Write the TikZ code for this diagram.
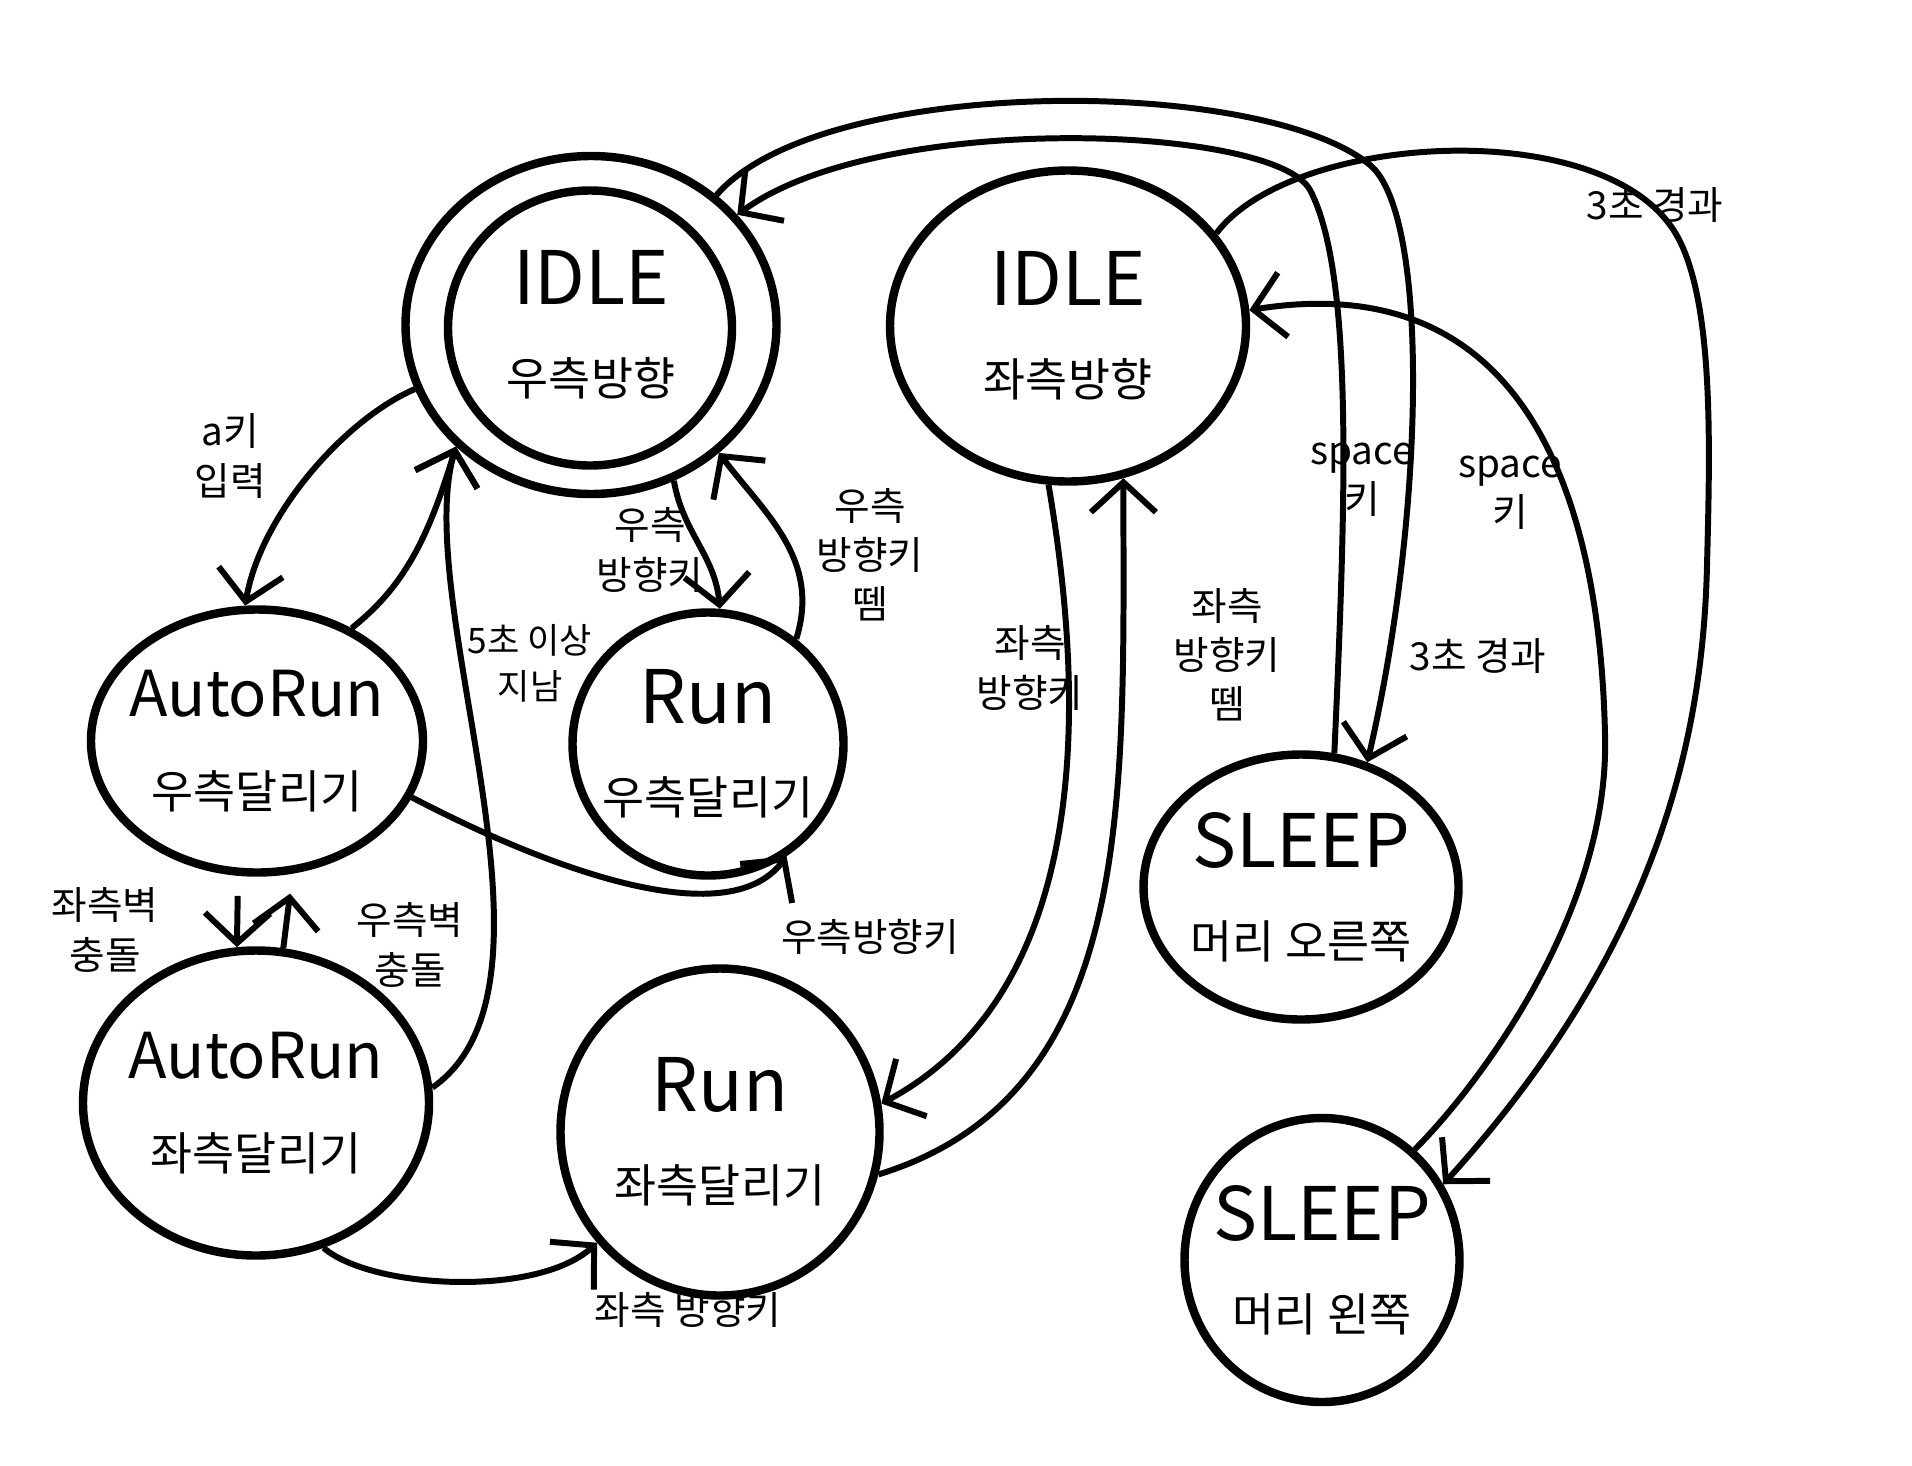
\documentclass[tikz,border=0pt]{standalone}
\usepackage{fontspec}
\setmainfont{Noto Sans CJK KR}
\usetikzlibrary{arrows.meta,shapes.geometric}

\newcommand{\stxt}[3][21]{{\fontsize{#1}{24}\selectfont #2}\\[10pt]#3}

\begin{document}
\begin{tikzpicture}[thick]

		\tikzstyle{state}=[ellipse, draw, line width=2.4pt, inner sep=0pt]
		\tikzstyle{stext}=[align=center, font=\fontsize{13}{16}\selectfont]
		\tikzstyle{trans}=[-{Straight Barb[length=3mm,width=6.5mm]}, line width=1.7pt]
		\tikzstyle{lbl}=[align=center, inner sep=1pt, font=\fontsize{11}{14}\selectfont]

		\fill[white] (0,0) rectangle (19.12,14.65);

		% States
		\node[state, minimum width=3.71cm, minimum height=3.38cm] (idleR) at (5.91,11.40) {};
		\node[state, minimum width=2.84cm, minimum height=2.75cm] (idleRin) at (5.90,11.37) {};
		\node[stext] (idleRt) at (idleR) {\stxt{IDLE}{우측방향}};
		\node[state, minimum width=3.56cm, minimum height=3.11cm] (idleL) at (10.68,11.39) {};
		\node[stext] (idleLt) at (idleL) {\stxt{IDLE}{좌측방향}};
		\node[state, minimum width=3.32cm, minimum height=2.63cm] (autoR) at (2.57,7.24) {};
		\node[stext] (autoRt) at (autoR) {\stxt[18]{AutoRun}{우측달리기}};
		\node[state, minimum width=3.46cm, minimum height=3.05cm] (autoL) at (2.56,3.62) {};
		\node[stext] (autoLt) at (autoL) {\stxt[18]{AutoRun}{좌측달리기}};
		\node[state, minimum width=2.71cm, minimum height=2.63cm] (runR) at (7.08,7.21) {};
		\node[stext] (runRt) at (runR) {\stxt{Run}{우측달리기}};
		\node[state, minimum width=3.19cm, minimum height=3.27cm] (runL) at (7.20,3.33) {};
		\node[stext] (runLt) at (runL) {\stxt{Run}{좌측달리기}};
		\node[state, minimum width=3.15cm, minimum height=2.65cm] (sleepR) at (13.01,5.78) {};
		\node[stext] (sleepRt) at (sleepR) {\stxt{SLEEP}{머리 오른쪽}};
		\node[state, minimum width=2.75cm, minimum height=2.84cm] (sleepL) at (13.22,2.05) {};
		\node[stext] (sleepLt) at (sleepL) {\stxt{SLEEP}{머리 왼쪽}};

		% Transitions
		\draw[trans] (idleR.200) .. controls +(-0.7,-0.3) and +(0.15,0.9) .. (autoR.95);
		\draw[trans] (autoR.50) .. controls +(0.5,0.4) and +(-0.29,-0.97) .. (idleR.222);
		\draw[trans] (autoL.5) .. controls (5.8,4.8) and (4.1,8.6) .. (idleR.222);
		\draw[trans] (idleR.298) to[out=-80,in=95] (runR.85);
		\draw[trans] (runR.50) .. controls +(0.25,0.8) and +(0.45,-0.6) .. (idleR.315);
		\draw[trans, shorten <=2mm] (autoR.262) -- (autoL.97);
		\draw[trans, shorten >=2mm] (autoL.80) -- (autoR.285);
		\draw[trans] (autoR.340) .. controls +(1.32,-0.69) and +(-0.6,-0.8) .. (runR.305);
		\draw[trans] (autoL.295) .. controls +(0.48,-0.41) and +(-0.6,-0.55) .. (runL.222);
		\draw[trans] (idleL.263) .. controls +(0.6,-3.5) and +(1.5,0.8) .. (runL.10);
		\draw[trans] (runL.345) .. controls +(2.6,0.8) and +(0,-3.2) .. (idleL.290);
		\draw[trans] (idleR.46) .. controls (8.2,13.9) and (12.6,13.9) .. (13.7,13.0)
			.. controls (14.3,12.5) and (14.25,9.5) .. (sleepR.62);
		\draw[trans] (sleepR.76) .. controls (13.45,9.5) and (13.55,11.9) .. (13.1,12.75)
			.. controls (12.75,13.4) and (8.8,13.55) .. (idleR.37);
		\draw[trans] (idleL.32) .. controls (12.9,13.3) and (15.9,13.5) .. (16.7,12.4)
			.. controls (17.15,11.8) and (17.1,10.2) .. (17.07,9.0)
			.. controls (17.03,7.3) and (16.6,5.2) .. (sleepL.32);
		\draw[trans] (sleepL.50) .. controls +(0.6,0.6) and (16.1,5.5) .. (16.05,7.3)
			.. controls (16.0,9.6) and (15.3,12.0) .. (idleL.5);

		% Labels
		\node[lbl] (k1) at (2.30,10.09) {a키\\입력};
		\node[lbl, font=\fontsize{10}{13}\selectfont] (k2) at (5.30,8.02) {5초 이상\\지남};
		\node[lbl] (k3) at (6.50,9.15) {우측\\방향키};
		\node[lbl] (k4) at (8.70,9.10) {우측\\방향키\\뗌};
		\node[lbl] (k5) at (1.05,5.35) {좌측벽\\충돌};
		\node[lbl] (k6) at (4.10,5.20) {우측벽\\충돌};
		\node[lbl] (k7) at (8.70,5.28) {우측방향키};
		\node[lbl] (k8) at (6.88,1.55) {좌측 방향키};
		\node[lbl] (k9) at (10.30,7.97) {좌측\\방향키};
		\node[lbl] (k10) at (12.27,8.10) {좌측\\방향키\\뗌};
		\node[lbl] (k11) at (16.55,12.60) {3초 경과};
		\node[lbl] (k12) at (14.78,8.09) {3초 경과};
		\node[lbl] (k13) at (13.62,9.85) {space\\키};
		\node[lbl] (k14) at (15.10,9.72) {space\\키};

\end{tikzpicture}
\end{document}
